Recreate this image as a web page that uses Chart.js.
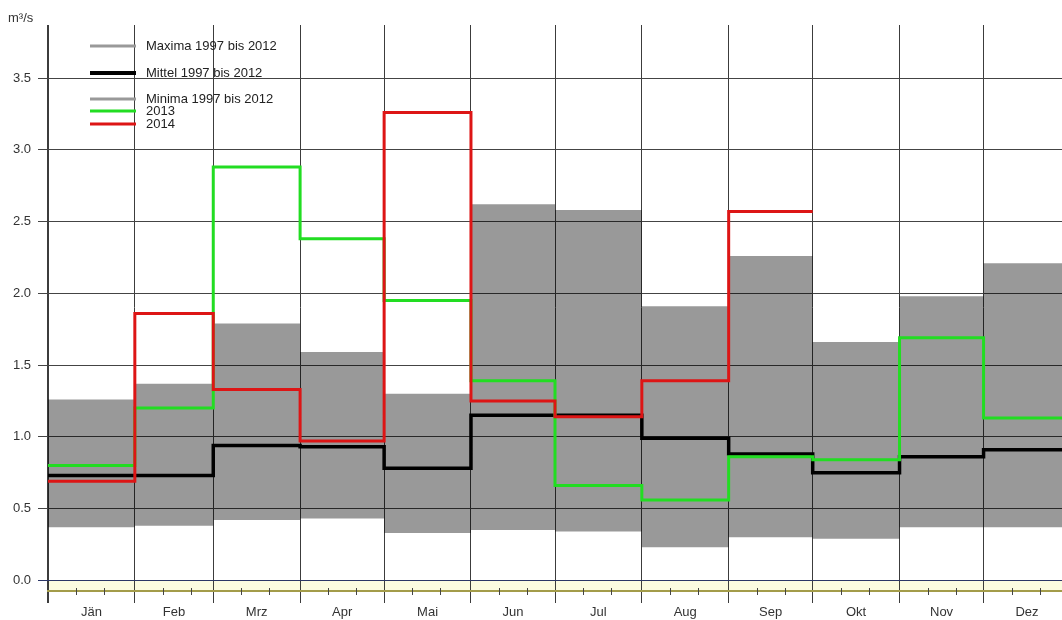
<!DOCTYPE html>
<html lang="de">
<head>
<meta charset="utf-8">
<title>Abfluss Monatswerte</title>
<script src="https://cdn.jsdelivr.net/npm/chart.js@4.4.1/dist/chart.umd.min.js"></script>
<style>
  body { margin: 0; background: #fff; }
  #wrap { position: relative; width: 1062px; height: 620px; }
</style>
</head>
<body>
<div id="wrap"><canvas id="abfluss"></canvas></div>
<script>
const monate = ['Jän', 'Feb', 'Mrz', 'Apr', 'Mai', 'Jun', 'Jul', 'Aug', 'Sep', 'Okt', 'Nov', 'Dez'];
const tageImMonat = [31, 28, 31, 30, 31, 30, 31, 31, 30, 31, 30, 31];

const maxima = [1.26, 1.37, 1.79, 1.59, 1.30, 2.62, 2.58, 1.91, 2.26, 1.66, 1.98, 2.21];
const minima = [0.37, 0.38, 0.42, 0.43, 0.33, 0.35, 0.34, 0.23, 0.30, 0.29, 0.37, 0.37];
const mittel = [0.73, 0.73, 0.94, 0.93, 0.78, 1.15, 1.15, 0.99, 0.88, 0.75, 0.86, 0.91];
const werte2013 = [0.80, 1.20, 2.88, 2.38, 1.95, 1.39, 0.66, 0.56, 0.86, 0.84, 1.69, 1.13];
const werte2014 = [0.69, 1.86, 1.33, 0.97, 3.26, 1.25, 1.14, 1.39, 2.57, null, null, null];

const yTicks = [0, 0.5, 1.0, 1.5, 2.0, 2.5, 3.0, 3.5];
const legendeTexte = ['Maxima 1997 bis 2012', 'Mittel 1997 bis 2012', 'Minima 1997 bis 2012', '2013', '2014'];
const einheit = 'm³/s';

// Tag im Jahr, an dem jeder Monat beginnt
const monatsStart = [];
let tagSumme = 0;
tageImMonat.forEach(t => { monatsStart.push(tagSumme); tagSumme += t; });

// Treppenpunkte: Wert gilt vom Monatsanfang bis zum Monatsende
function stufen(werte) {
  const punkte = [];
  let letzter = -1;
  werte.forEach((w, i) => {
    if (w !== null) {
      punkte.push({ x: monatsStart[i], y: w });
      letzter = i;
    }
  });
  punkte.push({ x: monatsStart[letzter] + tageImMonat[letzter], y: werte[letzter] });
  return punkte;
}

// x-Ticks: Monatsgrenze (Gitterlinie) und Monatsmitte (Beschriftung)
const xTicks = [];
monate.forEach((m, i) => {
  xTicks.push({ value: monatsStart[i], label: '' });
  xTicks.push({ value: monatsStart[i] + tageImMonat[i] / 2, label: m });
});

const grau = '#999999';
const gruen = '#22dd22';
const rot = '#dd1515';

const hintergrund = {
  id: 'hintergrund',
  beforeDraw(chart) {
    const { ctx, chartArea, scales } = chart;
    const y0 = scales.y.getPixelForValue(0);
    ctx.save();
    ctx.fillStyle = '#fbfbe0';
    ctx.fillRect(chartArea.left, y0, chartArea.right - chartArea.left, chartArea.bottom - y0);
    ctx.restore();
  }
};

const extras = {
  id: 'extras',
  afterDraw(chart) {
    const { ctx, chartArea, scales } = chart;
    ctx.save();
    // kleine Striche bei Tag 10 und 20 jedes Monats
    ctx.strokeStyle = '#444';
    ctx.lineWidth = 1;
    monatsStart.forEach(s => {
      [10, 20].forEach(d => {
        const x = Math.round(scales.x.getPixelForValue(s + d)) + 0.5;
        if (x > chartArea.right) return;
        ctx.beginPath();
        ctx.moveTo(x, chartArea.bottom - 3);
        ctx.lineTo(x, chartArea.bottom + 4);
        ctx.stroke();
      });
    });

    // Einheit
    ctx.fillStyle = '#333';
    ctx.font = '13px "Liberation Sans", Arial, sans-serif';
    ctx.textBaseline = 'middle';
    ctx.textAlign = 'left';
    ctx.fillText(einheit, 8, 18);

    // Legende
    const farben = [grau, '#000000', grau, gruen, rot];
    const breiten = [3, 4, 3, 3, 3];
    const zeilen = [46, 73, 99, 111, 124];
    ctx.font = '13px "Liberation Sans", Arial, sans-serif';
    legendeTexte.forEach((text, i) => {
      ctx.strokeStyle = farben[i];
      ctx.lineWidth = breiten[i];
      ctx.beginPath();
      ctx.moveTo(90, zeilen[i]);
      ctx.lineTo(136, zeilen[i]);
      ctx.stroke();
      ctx.fillStyle = '#222';
      ctx.fillText(text, 146, zeilen[i]);
    });
    ctx.restore();
  }
};

const ctx = document.getElementById('abfluss').getContext('2d');
new Chart(ctx, {
  type: 'line',
  data: {
    datasets: [
      {
        label: legendeTexte[0],
        data: stufen(maxima),
        stepped: true,
        borderColor: 'transparent',
        backgroundColor: 'rgba(0,0,0,0.4)',
        fill: '+1',
        pointRadius: 0,
        order: 10
      },
      {
        label: legendeTexte[2],
        data: stufen(minima),
        stepped: true,
        borderColor: 'transparent',
        fill: false,
        pointRadius: 0,
        order: 9
      },
      {
        label: legendeTexte[1],
        data: stufen(mittel),
        stepped: true,
        borderColor: '#000000',
        borderWidth: 3.5,
        fill: false,
        pointRadius: 0,
        order: 3
      },
      {
        label: legendeTexte[3],
        data: stufen(werte2013),
        stepped: true,
        borderColor: gruen,
        borderWidth: 3,
        fill: false,
        pointRadius: 0,
        order: 2
      },
      {
        label: legendeTexte[4],
        data: stufen(werte2014),
        stepped: true,
        borderColor: rot,
        borderWidth: 3,
        fill: false,
        pointRadius: 0,
        order: 1
      }
    ]
  },
  plugins: [hintergrund, extras],
  options: {
    responsive: true,
    maintainAspectRatio: false,
    animation: false,
    layout: { padding: { top: 25, right: 0, bottom: 0, left: 0 } },
    plugins: {
      legend: { display: false },
      tooltip: { enabled: false }
    },
    scales: {
      x: {
        type: 'linear',
        min: 0,
        max: 362,
        afterBuildTicks: axis => { axis.ticks = xTicks.map(t => ({ value: t.value })); },
        afterFit: axis => { axis.height = 29; },
        ticks: {
          autoSkip: false,
          maxRotation: 0,
          minRotation: 0,
          padding: 2,
          color: '#333',
          font: { family: '"Liberation Sans", Arial, sans-serif', size: 13 },
          callback: (value, index) => xTicks[index] ? xTicks[index].label : ''
        },
        grid: {
          color: c => c.index % 2 === 0 ? '#3c3c3c' : 'transparent',
          lineWidth: c => c.index === 0 ? 2 : 1,
          tickLength: 12
        },
        border: { color: '#a39c4a', width: 2 }
      },
      y: {
        min: -0.075,
        max: 3.87,
        afterBuildTicks: axis => { axis.ticks = yTicks.map(v => ({ value: v })); },
        afterFit: axis => { axis.width = 48; },
        ticks: {
          padding: 7,
          color: '#333',
          font: { family: '"Liberation Sans", Arial, sans-serif', size: 13 },
          callback: v => v.toFixed(1)
        },
        grid: {
          color: c => c.tick && c.tick.value === 0 ? '#2a3566' : '#444444',
          lineWidth: 1,
          tickLength: 10
        },
        border: { display: false }
      }
    }
  }
});
</script>
</body>
</html>
